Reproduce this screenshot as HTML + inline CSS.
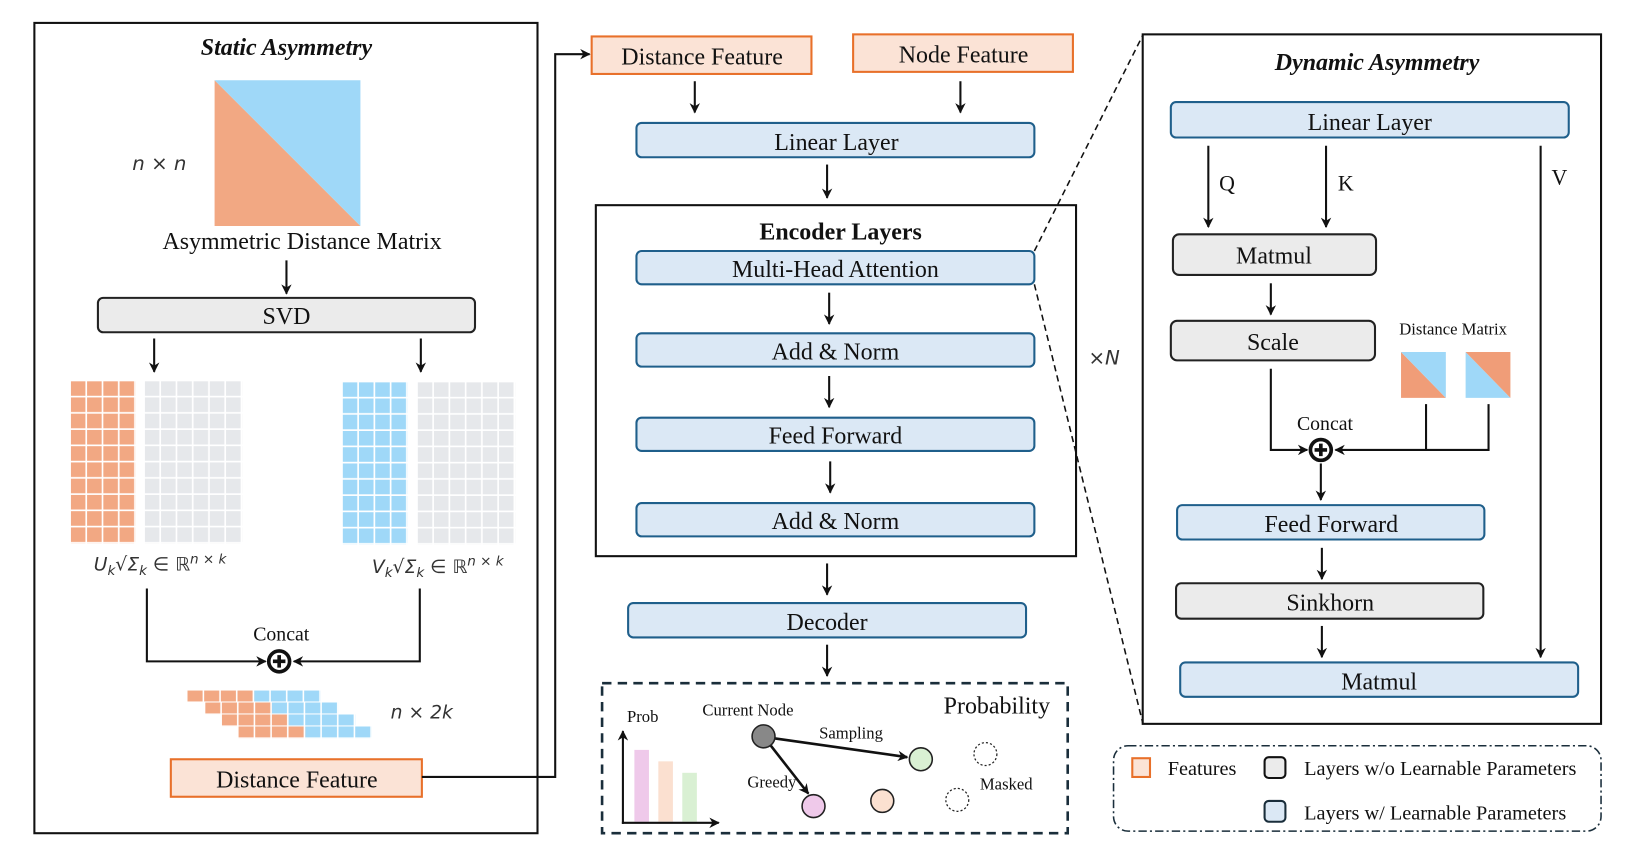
<!DOCTYPE html>
<html><head><meta charset="utf-8"><style>
html,body{margin:0;padding:0;background:#fff;}
svg{display:block;}
text{font-family:"Liberation Serif",serif;fill:#111;}
.s{font-family:"DejaVu Sans","Liberation Sans",sans-serif;font-style:italic;fill:#333;}
.b{fill:#dbe8f5;stroke:#1f5f8b;stroke-width:2;}
.g{fill:#ebebeb;stroke:#222;stroke-width:2;}
.f{fill:#fbe3d6;stroke:#e8702a;stroke-width:2;}
.l{stroke:#111;stroke-width:2;fill:none;}
</style></head><body>
<svg width="1625" height="853" viewBox="0 0 1560 819" preserveAspectRatio="none" xmlns="http://www.w3.org/2000/svg">
<defs>
<marker id="a" markerWidth="10" markerHeight="10" refX="9" refY="5" orient="auto" markerUnits="userSpaceOnUse"><path d="M0,0 L10,5 L0,10 L3,5 Z" fill="#111"/></marker>
<g id="cp"><circle r="10" fill="#fff" stroke="#111" stroke-width="3.5"/><path d="M-6,0H6M0,-6V6" stroke="#111" stroke-width="3.5"/></g>
</defs>
<rect x="0" y="0" width="1560" height="819" fill="#fff"/>

<!-- LEFT -->
<rect x="33" y="22" width="483" height="778" fill="none" stroke="#111" stroke-width="2"/>
<text x="275" y="53" font-size="23" font-weight="bold" font-style="italic" text-anchor="middle">Static Asymmetry</text>
<polygon points="206,77 346,217 206,217" fill="#f2a883"/>
<polygon points="206,77 346,77 346,217" fill="#9fd8f8"/>
<text x="153" y="163" class="s" font-size="19" text-anchor="middle">n × n</text>
<text x="290" y="239" font-size="23" text-anchor="middle">Asymmetric Distance Matrix</text>
<line x1="275" y1="250" x2="275" y2="282" class="l" marker-end="url(#a)"/>
<rect x="94" y="286" width="362" height="33" rx="5" class="g"/>
<text x="275" y="311" font-size="23" text-anchor="middle">SVD</text>
<line x1="148" y1="325" x2="148" y2="357" class="l" marker-end="url(#a)"/>
<line x1="404" y1="325" x2="404" y2="357" class="l" marker-end="url(#a)"/>
<g>
<pattern id="po" x="68" y="366" width="15.6" height="15.6" patternUnits="userSpaceOnUse"><rect width="14" height="14" fill="#f2a883"/></pattern>
<pattern id="pg" x="139" y="366" width="15.6" height="15.6" patternUnits="userSpaceOnUse"><rect width="14" height="14" fill="#e6e8eb"/></pattern>
<pattern id="pb" x="329" y="367" width="15.6" height="15.6" patternUnits="userSpaceOnUse"><rect width="14" height="14" fill="#9fd8f8"/></pattern>
<pattern id="pg2" x="401" y="367" width="15.6" height="15.6" patternUnits="userSpaceOnUse"><rect width="14" height="14" fill="#e6e8eb"/></pattern>
<rect x="68" y="366" width="62.4" height="156" fill="url(#po)"/>
<rect x="139" y="366" width="93.6" height="156" fill="url(#pg)"/>
<rect x="329" y="367" width="62.4" height="156" fill="url(#pb)"/>
<rect x="401" y="367" width="93.6" height="156" fill="url(#pg2)"/>
</g>
<text x="90" y="548" class="s" font-size="18">U<tspan font-size="13" dy="4">k</tspan><tspan dy="-4">√Σ</tspan><tspan font-size="13" dy="4">k</tspan><tspan dy="-4"> ∈ ℝ</tspan><tspan font-size="13" dy="-7">n × k</tspan></text>
<text x="357" y="550" class="s" font-size="18">V<tspan font-size="13" dy="4">k</tspan><tspan dy="-4">√Σ</tspan><tspan font-size="13" dy="4">k</tspan><tspan dy="-4"> ∈ ℝ</tspan><tspan font-size="13" dy="-7">n × k</tspan></text>
<polyline points="141,565 141,635 255,635" class="l" marker-end="url(#a)"/>
<polyline points="403,565 403,635 282,635" class="l" marker-end="url(#a)"/>
<use href="#cp" x="268" y="635"/>
<text x="270" y="615" font-size="19" text-anchor="middle">Concat</text>
<g>
<pattern id="so" width="16" height="11.5" patternUnits="userSpaceOnUse"><rect width="14.5" height="10.5" fill="#f2a883"/></pattern>
<pattern id="sb" width="16" height="11.5" patternUnits="userSpaceOnUse"><rect width="14.5" height="10.5" fill="#9fd8f8"/></pattern>
<g transform="translate(180,663)"><rect width="64" height="11.5" fill="url(#so)"/><rect x="64" width="64" height="11.5" fill="url(#sb)"/></g>
<g transform="translate(197,674.5)"><rect width="64" height="11.5" fill="url(#so)"/><rect x="64" width="64" height="11.5" fill="url(#sb)"/></g>
<g transform="translate(213,686)"><rect width="64" height="11.5" fill="url(#so)"/><rect x="64" width="64" height="11.5" fill="url(#sb)"/></g>
<g transform="translate(229,697.5)"><rect width="64" height="11.5" fill="url(#so)"/><rect x="64" width="64" height="11.5" fill="url(#sb)"/></g>
</g>
<text x="375" y="690" class="s" font-size="18">n × 2k</text>
<rect x="164" y="729" width="241" height="36" class="f"/>
<text x="285" y="756" font-size="23" text-anchor="middle">Distance Feature</text>
<polyline points="405,746 533,746 533,52 566,52" class="l" marker-end="url(#a)"/>

<!-- MIDDLE -->
<rect x="568" y="35" width="211" height="36" class="f"/>
<text x="674" y="62" font-size="23" text-anchor="middle">Distance Feature</text>
<rect x="819" y="33" width="211" height="36" class="f"/>
<text x="925" y="60" font-size="23" text-anchor="middle">Node Feature</text>
<line x1="667" y1="78" x2="667" y2="108" class="l" marker-end="url(#a)"/>
<line x1="922" y1="78" x2="922" y2="108" class="l" marker-end="url(#a)"/>
<rect x="611" y="118" width="382" height="33" rx="5" class="b"/>
<text x="803" y="144" font-size="23" text-anchor="middle">Linear Layer</text>
<line x1="794" y1="158" x2="794" y2="190" class="l" marker-end="url(#a)"/>
<rect x="572" y="197" width="461" height="337" fill="none" stroke="#111" stroke-width="2"/>
<text x="807" y="230" font-size="23" font-weight="bold" text-anchor="middle">Encoder Layers</text>
<rect x="611" y="241" width="382" height="32" rx="5" class="b"/>
<text x="802" y="266" font-size="23" text-anchor="middle">Multi-Head Attention</text>
<line x1="796" y1="281" x2="796" y2="311" class="l" marker-end="url(#a)"/>
<rect x="611" y="320" width="382" height="32" rx="5" class="b"/>
<text x="802" y="345" font-size="23" text-anchor="middle">Add &amp; Norm</text>
<line x1="796" y1="361" x2="796" y2="391" class="l" marker-end="url(#a)"/>
<rect x="611" y="401" width="382" height="32" rx="5" class="b"/>
<text x="802" y="426" font-size="23" text-anchor="middle">Feed Forward</text>
<line x1="797" y1="443" x2="797" y2="473" class="l" marker-end="url(#a)"/>
<rect x="611" y="483" width="382" height="32" rx="5" class="b"/>
<text x="802" y="508" font-size="23" text-anchor="middle">Add &amp; Norm</text>
<text x="1060" y="350" class="s" font-size="19" text-anchor="middle">×N</text>
<line x1="794" y1="541" x2="794" y2="571" class="l" marker-end="url(#a)"/>
<rect x="603" y="579" width="382" height="33" rx="5" class="b"/>
<text x="794" y="605" font-size="23" text-anchor="middle">Decoder</text>
<line x1="794" y1="619" x2="794" y2="649" class="l" marker-end="url(#a)"/>

<rect x="578" y="656" width="447" height="144" fill="none" stroke="#1a2e3b" stroke-width="2.5" stroke-dasharray="9,6"/>
<text x="617" y="693" font-size="16" text-anchor="middle">Prob</text>
<rect x="609" y="720" width="14" height="69" fill="#efc9ea"/>
<rect x="632" y="731" width="14" height="58" fill="#fbe0d0"/>
<rect x="655" y="742" width="14" height="47" fill="#d9f0d3"/>
<line x1="598" y1="791" x2="598" y2="702" class="l" stroke-width="1.5" marker-end="url(#a)"/>
<line x1="597" y1="790" x2="690" y2="790" class="l" stroke-width="1.5" marker-end="url(#a)"/>
<text x="718" y="687" font-size="16" text-anchor="middle">Current Node</text>
<text x="817" y="709" font-size="16" text-anchor="middle">Sampling</text>
<text x="741" y="756" font-size="16" text-anchor="middle">Greedy</text>
<text x="966" y="758" font-size="16" text-anchor="middle">Masked</text>
<text x="957" y="685" font-size="23" text-anchor="middle">Probability</text>
<line x1="744" y1="709" x2="871" y2="727" stroke="#111" stroke-width="2.5" marker-end="url(#a)"/>
<line x1="740" y1="716" x2="776" y2="762" stroke="#111" stroke-width="2.5" marker-end="url(#a)"/>
<circle cx="733" cy="707" r="11" fill="#888" stroke="#222" stroke-width="1.5"/>
<circle cx="884" cy="729" r="11" fill="#d9f0d3" stroke="#222" stroke-width="1.5"/>
<circle cx="781" cy="774" r="11" fill="#efc9ea" stroke="#222" stroke-width="1.5"/>
<circle cx="847" cy="769" r="11" fill="#fbe0d0" stroke="#222" stroke-width="1.5"/>
<circle cx="946" cy="724" r="11" fill="none" stroke="#222" stroke-width="1.2" stroke-dasharray="2,2"/>
<circle cx="919" cy="768" r="11" fill="none" stroke="#222" stroke-width="1.2" stroke-dasharray="2,2"/>

<line x1="993" y1="241" x2="1097" y2="34" stroke="#111" stroke-width="1.5" stroke-dasharray="6,4"/>
<line x1="993" y1="273" x2="1097" y2="694" stroke="#111" stroke-width="1.5" stroke-dasharray="6,4"/>

<!-- RIGHT -->
<rect x="1097" y="33" width="440" height="662" fill="none" stroke="#111" stroke-width="2"/>
<text x="1322" y="67" font-size="23" font-weight="bold" font-style="italic" text-anchor="middle">Dynamic Asymmetry</text>
<rect x="1124" y="98" width="382" height="34" rx="5" class="b"/>
<text x="1315" y="125" font-size="23" text-anchor="middle">Linear Layer</text>
<line x1="1160" y1="140" x2="1160" y2="218" class="l" marker-end="url(#a)"/>
<line x1="1273" y1="140" x2="1273" y2="218" class="l" marker-end="url(#a)"/>
<line x1="1479" y1="140" x2="1479" y2="631" class="l" marker-end="url(#a)"/>
<text x="1178" y="183" font-size="21" text-anchor="middle">Q</text>
<text x="1292" y="183" font-size="21" text-anchor="middle">K</text>
<text x="1497" y="177" font-size="21" text-anchor="middle">V</text>
<rect x="1126" y="225" width="195" height="39" rx="6" class="g"/>
<text x="1223" y="253" font-size="23" text-anchor="middle">Matmul</text>
<line x1="1220" y1="272" x2="1220" y2="302" class="l" marker-end="url(#a)"/>
<rect x="1124" y="308" width="196" height="38" rx="6" class="g"/>
<text x="1222" y="336" font-size="23" text-anchor="middle">Scale</text>
<text x="1395" y="321" font-size="16" text-anchor="middle">Distance Matrix</text>
<polygon points="1345,338 1388,382 1345,382" fill="#f09d78"/>
<polygon points="1345,338 1388,338 1388,382" fill="#9fd8f8"/>
<polygon points="1407,338 1450,382 1407,382" fill="#9fd8f8"/>
<polygon points="1407,338 1450,338 1450,382" fill="#f09d78"/>
<text x="1272" y="413" font-size="19" text-anchor="middle">Concat</text>
<polyline points="1220,354 1220,432 1255,432" class="l" marker-end="url(#a)"/>
<line x1="1369" y1="388" x2="1369" y2="432" class="l"/>
<polyline points="1429,388 1429,432 1282,432" class="l" marker-end="url(#a)"/>
<use href="#cp" x="1268" y="432"/>
<line x1="1268" y1="445" x2="1268" y2="480" class="l" marker-end="url(#a)"/>
<rect x="1130" y="485" width="295" height="33" rx="5" class="b"/>
<text x="1278" y="511" font-size="23" text-anchor="middle">Feed Forward</text>
<line x1="1269" y1="526" x2="1269" y2="556" class="l" marker-end="url(#a)"/>
<rect x="1129" y="560" width="295" height="34" rx="5" class="g"/>
<text x="1277" y="586" font-size="23" text-anchor="middle">Sinkhorn</text>
<line x1="1269" y1="601" x2="1269" y2="631" class="l" marker-end="url(#a)"/>
<rect x="1133" y="636" width="382" height="33" rx="5" class="b"/>
<text x="1324" y="662" font-size="23" text-anchor="middle">Matmul</text>

<!-- legend -->
<rect x="1069" y="716" width="468" height="82" rx="14" fill="none" stroke="#1a2e3b" stroke-width="1.5" stroke-dasharray="8,3,2,3"/>
<rect x="1087" y="728" width="17" height="18" fill="#fbe3d6" stroke="#e8702a" stroke-width="2"/>
<text x="1121" y="744" font-size="19.5">Features</text>
<rect x="1214" y="727" width="20" height="20" rx="4" fill="#ebebeb" stroke="#111" stroke-width="2"/>
<text x="1252" y="744" font-size="19.5">Layers w/o Learnable Parameters</text>
<rect x="1214" y="769" width="20" height="20" rx="4" fill="#dbe8f5" stroke="#1a2e3b" stroke-width="2"/>
<text x="1252" y="787" font-size="19.5">Layers w/ Learnable Parameters</text>
</svg>
</body></html>
